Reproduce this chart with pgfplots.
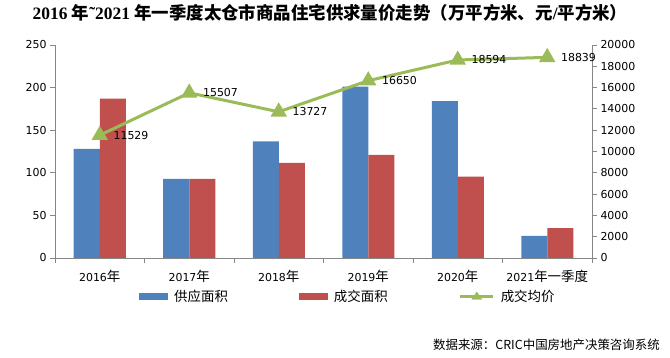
\documentclass[border=0pt]{standalone}
\usepackage{fontspec}
\usepackage{pgfplots}
\pgfplotsset{compat=1.18}
\setmainfont{DejaVu Sans}
\newfontfamily\cjk{Noto Sans CJK SC}
\newfontfamily\tser{Liberation Serif}
\newcommand\cj[1]{{\fontsize{13.5}{15}\selectfont\cjk #1}}
\definecolor{cblue}{HTML}{4F81BD}
\definecolor{cred}{HTML}{C0504D}
\definecolor{cgreen}{HTML}{9BBB59}
\definecolor{caxis}{HTML}{868686}
\begin{document}
\begin{tikzpicture}
\useasboundingbox (0,0) rectangle (670bp,358bp);
\pgfplotsset{
  base/.style={
    at={(55bp,100bp)}, anchor=south west, scale only axis,
    width=537bp, height=213bp,
    xmin=-0.5, xmax=5.5,
    axis line style={caxis, line width=0.8bp},
    tick style={caxis, line width=0.8bp},
    tick align=outside,
    major tick length=5bp, minor tick length=5bp,
    /pgf/number format/assume math mode=true,
    ticklabel style={font=\fontsize{11}{13}\selectfont, text=black},
  }
}
\begin{axis}[base,
  ymin=0, ymax=250, ytick={0,50,...,250},
  axis x line*=bottom, axis y line*=left,
  xtick={0,...,5},
  xticklabels={{2016\cj{年}},{2017\cj{年}},{2018\cj{年}},{2019\cj{年}},{2020\cj{年}},{2021\cj{年一季度}}},
  major x tick style={draw=none},
  minor xtick={-0.5,0.5,1.5,2.5,3.5,4.5,5.5},
  xticklabel style={yshift=-4bp},
  legend style={draw=none, fill=none, inner sep=0pt,
    at={(0.1564,-0.183)}, anchor=west,
    font=\fontsize{13.5}{15}\selectfont\cjk,
    nodes={inner sep=1bp},
    legend columns=3,
    /tikz/every odd column/.append style={column sep=5bp},
    /tikz/every even column/.append style={column sep=70bp}},
]
\addplot[ybar, bar width=26bp, bar shift=-13bp, fill=cblue, draw=none,
  legend image code/.code={\fill[cblue] (0bp,-3.5bp) rectangle (29bp,3.5bp);}]
  coordinates {(0,128) (1,93) (2,137) (3,201) (4,184) (5,26)};
\addplot[ybar, bar width=26bp, bar shift=13bp, fill=cred, draw=none,
  legend image code/.code={\fill[cred] (0bp,-3.5bp) rectangle (29bp,3.5bp);}]
  coordinates {(0,187) (1,93) (2,111.5) (3,121) (4,95.5) (5,35)};
\addlegendimage{legend image code/.code={\draw[cgreen, line width=3bp] (0bp,0bp) -- (33bp,0bp);
  \fill[cgreen] (16.5bp,5bp) -- (11.5bp,-2.5bp) -- (21.5bp,-2.5bp) -- cycle;}}
\legend{供应面积,成交面积,成交均价}
\end{axis}
\begin{axis}[base,
  ymin=0, ymax=20000, ytick={0,2000,...,20000},
  axis x line=none, axis y line*=right,
  scaled y ticks=false,
  yticklabel style={/pgf/number format/1000 sep={}},
]
\addplot[cgreen, line width=3bp, mark=triangle*, mark size=6.5bp,
  mark options={solid},
  point meta=explicit symbolic,
  nodes near coords,
  every node near coord/.append style={anchor=west, xshift=9bp, yshift=0bp,
     text=black, font=\fontsize{11}{13}\selectfont}]
  coordinates {(0,11529) [11529] (1,15507) [15507] (2,13727) [13727]
               (3,16650) [16650] (4,18594) [18594] (5,18839) [18839]};
\end{axis}
\node at (330bp,345bp) {\fontsize{17.5}{20}\selectfont\bfseries
  {\tser 2016 }{\cjk 年}{\tser ˜2021 }{\cjk 年一季度太仓市商品住宅供求量价走势（万平方米、元}{\tser /}{\cjk 平方米）}};
\node[anchor=east, inner sep=0pt] at (660bp,13bp) {\fontsize{12.5}{14}\selectfont\cjk 数据来源：CRIC中国房地产决策咨询系统};
\end{tikzpicture}
\end{document}
